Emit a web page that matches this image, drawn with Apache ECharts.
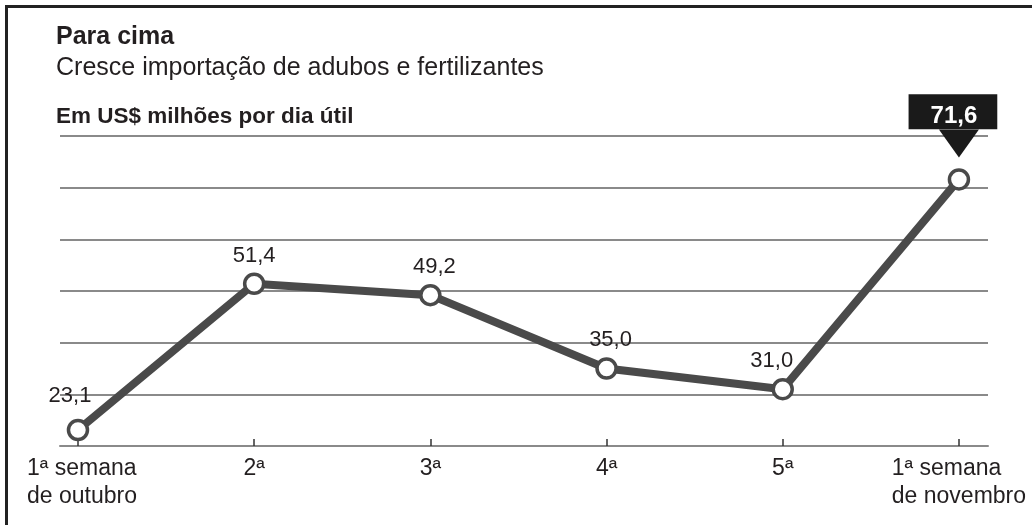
<!DOCTYPE html>
<html>
<head>
<meta charset="utf-8">
<script src="https://cdn.jsdelivr.net/npm/echarts@6/dist/echarts.min.js"></script>
<style>
  html, body { margin: 0; padding: 0; background: #fff; }
  #chart { width: 1032px; height: 525px; }
</style>
</head>
<body>
<div id="chart"></div>
<script>
// Weekly import values (US$ millions per working day)
const weeks = ['1ª semana\nde outubro', '2ª', '3ª', '4ª', '5ª', '1ª semana\nde novembro'];
const values = [23.1, 51.4, 49.2, 35.0, 31.0, 71.6];
const valueLabels = ['23,1', '51,4', '49,2', '35,0', '31,0', '71,6'];
const yTicks = [20, 30, 40, 50, 60, 70, 80];

// Per-point label nudges so labels clear the line
const labelNudge = [[-8, -6], [0, 0], [4, 0], [4, 0], [-11, 0], [-6, 0]];
// Horizontal nudges for the category labels
const tickLabelNudge = [4, 0, 0, 0, 0, 0];

const FONT = '"Liberation Sans", Arial, Helvetica, sans-serif';
const INK = '#231f20';
const LINE = '#4a4a4a';
const GRID = '#8a8a8a';

const last = values.length - 1;
const seriesData = values.map((v, i) => {
  const item = {
    value: [i, v],
    label: { formatter: valueLabels[i], offset: labelNudge[i] }
  };
  if (i === last) {
    // highlighted latest value in a dark callout box
    item.label = {
      formatter: valueLabels[i],
      offset: labelNudge[i],
      color: '#fff',
      fontWeight: 'bold',
      fontSize: 24,
      lineHeight: 24,
      backgroundColor: '#1a1a1a',
      padding: [10, 20, 1, 22],
      distance: 39
    };
  }
  return item;
});

const chart = echarts.init(document.getElementById('chart'), null, { renderer: 'canvas' });
chart.setOption({
  animation: false,
  backgroundColor: '#fff',
  textStyle: { fontFamily: FONT },
  title: [
    { text: 'Para cima', left: 56, top: 25, padding: 0,
      textStyle: { fontFamily: FONT, fontSize: 25, fontWeight: 'bold', color: INK } },
    { text: 'Cresce importação de adubos e fertilizantes', left: 56, top: 56, padding: 0,
      textStyle: { fontFamily: FONT, fontSize: 25, fontWeight: 'normal', color: INK } },
    { text: 'Em US$ milhões por dia útil', left: 56, top: 105, padding: 0,
      textStyle: { fontFamily: FONT, fontSize: 22.5, fontWeight: 'bold', color: INK } }
  ],
  graphic: [
    // outer frame (top and left edges visible)
    { type: 'rect', left: 4, top: 4, shape: { x: 0, y: 0, width: 1040, height: 540 },
      style: { fill: 'none', stroke: '#222', lineWidth: 3 }, z: 100 }
  ],
  grid: { left: 60, right: 44, top: 136, bottom: 79 },
  xAxis: {
    type: 'value',
    min: -0.102,
    max: 5.165,
    axisLine: { show: true, onZero: false, lineStyle: { color: GRID, width: 2 } },
    axisTick: { show: true, inside: true, length: 7, customValues: [0, 1, 2, 3, 4, 5],
      lineStyle: { color: '#333', width: 1.5 } },
    splitLine: { show: false },
    axisLabel: {
      customValues: [0, 1, 2, 3, 4, 5],
      margin: 9,
      formatter: v => {
        const i = Math.round(v);
        const pad = tickLabelNudge[i] ? '{s|}' : '';
        return weeks[i].split('\n').map(s => pad + '{l|' + s + '}').join('\n');
      },
      rich: {
        l: { fontFamily: FONT, fontSize: 23, color: INK, align: 'left', lineHeight: 28 },
        s: { width: 8, align: 'left', lineHeight: 28 }
      }
    }
  },
  yAxis: {
    type: 'value',
    min: yTicks[0],
    max: yTicks[yTicks.length - 1],
    interval: 10,
    axisLine: { show: false },
    axisTick: { show: false },
    axisLabel: { show: false },
    splitLine: { show: true, lineStyle: { color: GRID, width: 2 } }
  },
  series: [{
    type: 'line',
    data: seriesData,
    lineStyle: { color: LINE, width: 8 },
    symbol: 'circle',
    symbolSize: 19,
    itemStyle: { color: '#fff', borderColor: LINE, borderWidth: 3.5 },
    label: { show: true, position: 'top', distance: 6, fontSize: 22, color: INK, fontFamily: FONT },
    emphasis: { disabled: true },
    z: 3,
    markPoint: {
      silent: true,
      data: [{
        coord: [last, values[last]],
        symbol: 'path://M0,0 L40,0 L20,28 Z',
        symbolSize: [40, 28],
        symbolOffset: [0, -36],
        itemStyle: { color: '#1a1a1a' },
        label: { show: false }
      }]
    }
  }]
});
</script>
</body>
</html>
